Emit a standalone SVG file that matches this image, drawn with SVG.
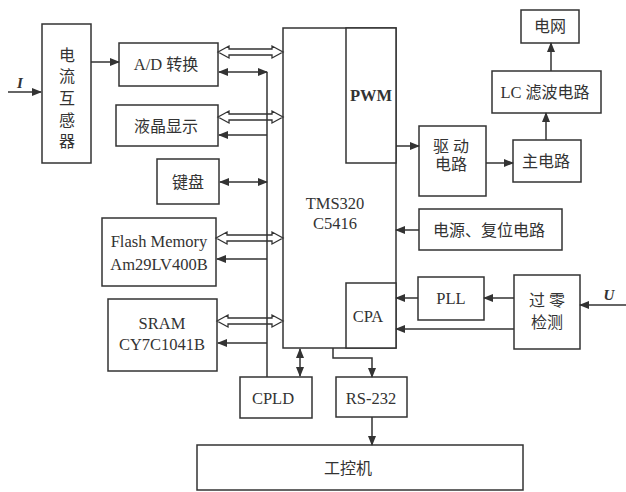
<svg xmlns="http://www.w3.org/2000/svg" width="626" height="492" viewBox="0 0 626 492">
<defs>
<marker id="ah" markerWidth="10" markerHeight="8" refX="9" refY="4" orient="auto" markerUnits="userSpaceOnUse">
<path d="M0,0 L10,4 L0,8 Z" fill="#333"/>
</marker>
<marker id="as" markerWidth="10" markerHeight="8" refX="1" refY="4" orient="auto" markerUnits="userSpaceOnUse">
<path d="M10,0 L0,4 L10,8 Z" fill="#333"/>
</marker>
</defs>
<style>
.box{fill:#fff;stroke:#333;stroke-width:1.5}
.ln{fill:none;stroke:#333;stroke-width:1.5}
.arr{fill:none;stroke:#333;stroke-width:1.5;marker-end:url(#ah)}
.dbl{fill:none;stroke:#333;stroke-width:1.5;marker-end:url(#ah);marker-start:url(#as)}
.hol{fill:#fff;stroke:#333;stroke-width:1.3}
.t{font-family:"Liberation Serif","Noto Sans CJK SC",serif;font-size:16.5px;fill:#333;text-anchor:middle}
.c{font-family:"Liberation Serif","Noto Sans CJK SC",sans-serif;font-size:16px;fill:#333;text-anchor:middle}
.i{font-family:"Liberation Serif",serif;font-size:15px;font-style:italic;font-weight:bold;fill:#333;text-anchor:middle}
</style>
<rect width="626" height="492" fill="#fff"/>

<g id="ct">
<rect class="box" x="42" y="24" width="49" height="139"/>
<text class="c" x="67" y="61" font-size="15">电</text>
<text class="c" x="67" y="82" font-size="15">流</text>
<text class="c" x="67" y="104" font-size="15">互</text>
<text class="c" x="67" y="126" font-size="15">感</text>
<text class="c" x="67" y="147" font-size="15">器</text>
</g>
<g id="ad"><rect class="box" x="119" y="43" width="99" height="43"/><text class="c" x="166" y="70"><tspan font-size="16.5">A/D</tspan> 转换</text></g>
<g id="lcd"><rect class="box" x="116" y="105" width="102" height="41"/><text class="c" x="166" y="132">液晶显示</text></g>
<g id="kb"><rect class="box" x="157" y="159" width="62" height="45"/><text class="c" x="188" y="188">键盘</text></g>
<g id="flash"><rect class="box" x="102" y="218" width="114" height="68"/><text class="t" x="159" y="247">Flash Memory</text><text class="t" x="159" y="270">Am29LV400B</text></g>
<g id="sram"><rect class="box" x="108" y="299" width="109" height="72"/><text class="t" x="162" y="329">SRAM</text><text class="t" x="162" y="350">CY7C1041B</text></g>
<g id="cpld"><rect class="box" x="240" y="377" width="72" height="41"/><text class="t" x="273" y="404">CPLD</text></g>
<g id="dsp">
<rect class="box" x="283" y="28" width="113" height="320"/>
<text class="t" x="335" y="209" font-size="17.5">TMS320</text>
<text class="t" x="335" y="229" font-size="17.5">C5416</text>
</g>
<g id="pwm"><rect class="box" x="346" y="28" width="50" height="135"/><text class="t" x="371" y="101" font-size="12" font-weight="bold">PWM</text></g>
<g id="cpa"><rect class="box" x="346" y="283" width="50" height="65"/><text class="t" x="368" y="322">CPA</text></g>
<g id="rs232"><rect class="box" x="336" y="377" width="71" height="40"/><text class="t" x="371" y="404">RS-232</text></g>
<g id="ipc"><rect class="box" x="197" y="445" width="326" height="45"/><text class="c" x="348" y="474" font-size="18">工控机</text></g>
<g id="drv"><rect class="box" x="419" y="126" width="67" height="70"/><text class="c" x="451" y="152">驱 动</text><text class="c" x="451" y="170">电路</text></g>
<g id="main"><rect class="box" x="513" y="140" width="68" height="42"/><text class="c" x="546" y="167">主电路</text></g>
<g id="lc"><rect class="box" x="492" y="71" width="109" height="42"/><text class="c" x="545" y="98"><tspan font-size="16.5">LC</tspan> 滤波电路</text></g>
<g id="grid"><rect class="box" x="521" y="10" width="58" height="33"/><text class="c" x="550" y="32" font-size="15">电网</text></g>
<g id="pwr"><rect class="box" x="419" y="209" width="143" height="41"/><text class="c" x="489" y="236" font-size="15">电源、复位电路</text></g>
<g id="pll"><rect class="box" x="418" y="277" width="66" height="43"/><text class="t" x="451" y="304">PLL</text></g>
<g id="zc"><rect class="box" x="514" y="275" width="66" height="74"/><text class="c" x="547" y="306">过 零</text><text class="c" x="547" y="328">检测</text></g>

<g id="connectors">
<line class="arr" x1="8" y1="92" x2="41" y2="92"/>
<text class="i" x="20" y="88">I</text>
<line class="arr" x1="91" y1="62" x2="119" y2="62"/>
<polygon class="hol" points="218,52 229,46 229,49 272,49 272,46 283,52 272,58 272,55 229,55 229,58"/>
<line class="dbl" x1="219" y1="72" x2="267" y2="72"/>
<polygon class="hol" points="218,117 229,111 229,114 272,114 272,111 283,117 272,123 272,120 229,120 229,123"/>
<line class="arr" x1="267" y1="135" x2="219" y2="135"/>
<line class="dbl" x1="220" y1="182" x2="267" y2="182"/>
<polygon class="hol" points="216,238 227,232 227,235 272,235 272,232 283,238 272,244 272,241 227,241 227,244"/>
<line class="arr" x1="267" y1="259" x2="217" y2="259"/>
<polygon class="hol" points="217,321 228,315 228,318 272,318 272,315 283,321 272,327 272,324 228,324 228,327"/>
<line class="arr" x1="267" y1="343" x2="218" y2="343"/>
<line class="ln" x1="267" y1="72" x2="267" y2="377"/>
<line class="dbl" x1="300" y1="349" x2="300" y2="376"/>
<path class="arr" d="M333,348 V358 H372 V377"/>
<line class="arr" x1="372" y1="417" x2="372" y2="445"/>
<line class="arr" x1="396" y1="146" x2="419" y2="146"/>
<line class="arr" x1="486" y1="163" x2="513" y2="163"/>
<line class="arr" x1="546" y1="140" x2="546" y2="113"/>
<line class="arr" x1="551" y1="71" x2="551" y2="43"/>
<line class="arr" x1="419" y1="230" x2="396" y2="230"/>
<line class="arr" x1="418" y1="298" x2="396" y2="298"/>
<line class="arr" x1="514" y1="298" x2="484" y2="298"/>
<line class="arr" x1="514" y1="329" x2="396" y2="329"/>
<line class="arr" x1="626" y1="305" x2="580" y2="305"/>
<text class="i" x="609" y="300">U</text>
</g>
</svg>
